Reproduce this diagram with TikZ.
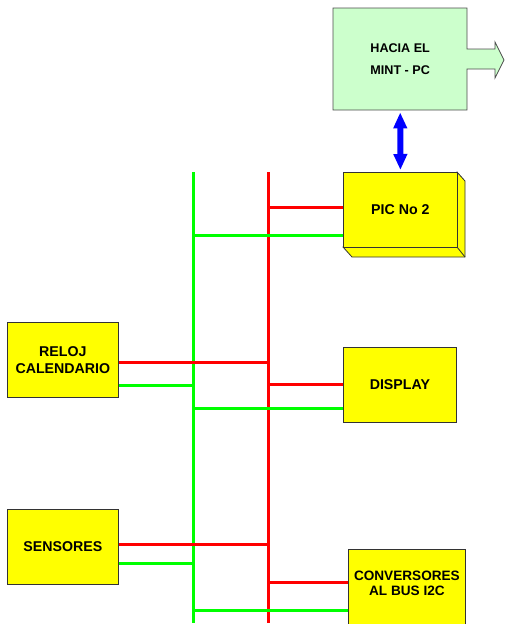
\documentclass[tikz,border=0pt]{standalone}
\usepackage{fontspec}
\setmainfont{Liberation Sans}
\usetikzlibrary{arrows.meta}
\definecolor{boxyellow}{HTML}{FFFF00}
\definecolor{boxgreen}{HTML}{CCFFCC}
\definecolor{busred}{HTML}{FF0000}
\definecolor{busgreen}{HTML}{00FF00}
\definecolor{busblue}{HTML}{0000FF}
\begin{document}
\begin{tikzpicture}[x=1pt,y=-1pt,
  box/.style={draw=black!80, line width=0.8pt, fill=boxyellow, inner sep=0pt,
    anchor=north west, align=center, font=\bfseries\fontsize{14.2}{17}\selectfont},
  redbus/.style={draw=busred, line width=3pt},
  greenbus/.style={draw=busgreen, line width=3pt},
  bluearrow/.style={draw=busblue, line width=6pt,
    {Triangle[width=13pt,length=16pt]}-{Triangle[width=13pt,length=16pt]},
    shorten >=2pt, shorten <=2pt}]
\useasboundingbox (0,0) rectangle (505,624);

% top box with outgoing arrow
\draw[draw=black!70, line width=0.8pt, fill=boxgreen]
  (333,8) -- (467,8) -- (467,49) -- (495,49) -- (495,42) -- (504,60)
  -- (495,78) -- (495,69) -- (467,69) -- (467,110) -- (333,110) -- cycle;
\node[font=\bfseries\fontsize{12.6}{21.5}\selectfont, align=center, inner sep=0pt,
  minimum width=134pt, minimum height=102pt, anchor=north west] (pc) at (333,8)
  {HACIA EL\\MINT - PC};

% PIC No 2 (3D box)
\draw[draw=black!80, line width=0.8pt, fill=boxyellow]
  (457,172) -- (465,181) -- (465,257) -- (352,257) -- (343,247) -- cycle;
\draw[draw=black!80, line width=0.8pt] (457,247) -- (465,257);
\node[box, minimum width=114pt, minimum height=75pt] (pic) at (343,172) {PIC No 2};

% other boxes
\node[box, minimum width=111pt, minimum height=75pt] (reloj) at (7,322) {RELOJ\\CALENDARIO};
\node[box, minimum width=113pt, minimum height=75pt] (display) at (343,347) {DISPLAY};
\node[box, minimum width=111pt, minimum height=75pt] (sens) at (7,509) {SENSORES};
\node[box, minimum width=117pt, minimum height=79pt,
  font=\bfseries\fontsize{13.6}{15}\selectfont] (conv) at (348,549)
  {CONVERSORES\\AL BUS I2C\\[-4pt]\mbox{}};

% blue link
\draw[bluearrow] (pc.south) -- (pic.north);

% buses
\coordinate (gtop) at (193,172);
\coordinate (gbot) at (193,623);
\coordinate (rtop) at (268,172);
\coordinate (rbot) at (268,623);
\draw[greenbus] (gtop) -- (gbot);
\draw[redbus] (rtop) -- (rbot);

% junction points
\coordinate (r1) at (268,207);
\coordinate (g1) at (193,235);
\coordinate (r2) at (269.5,362);
\coordinate (g2) at (194.5,385);
\coordinate (r3) at (268,384);
\coordinate (g3) at (193,408);
\coordinate (r4) at (269.5,544);
\coordinate (g4) at (194.5,563);
\coordinate (r5) at (268,582);
\coordinate (g5) at (193,610);

% connectors
\draw[redbus] (r1) -- (r1 -| pic.west);
\draw[greenbus] (g1) -- (g1 -| pic.west);
\draw[redbus] (reloj.east |- r2) -- (r2);
\draw[greenbus] (reloj.east |- g2) -- (g2);
\draw[redbus] (r3) -- (r3 -| display.west);
\draw[greenbus] (g3) -- (g3 -| display.west);
\draw[redbus] (sens.east |- r4) -- (r4);
\draw[greenbus] (sens.east |- g4) -- (g4);
\draw[redbus] (r5) -- (r5 -| conv.west);
\draw[greenbus] (g5) -- (g5 -| conv.west);
\end{tikzpicture}
\end{document}
